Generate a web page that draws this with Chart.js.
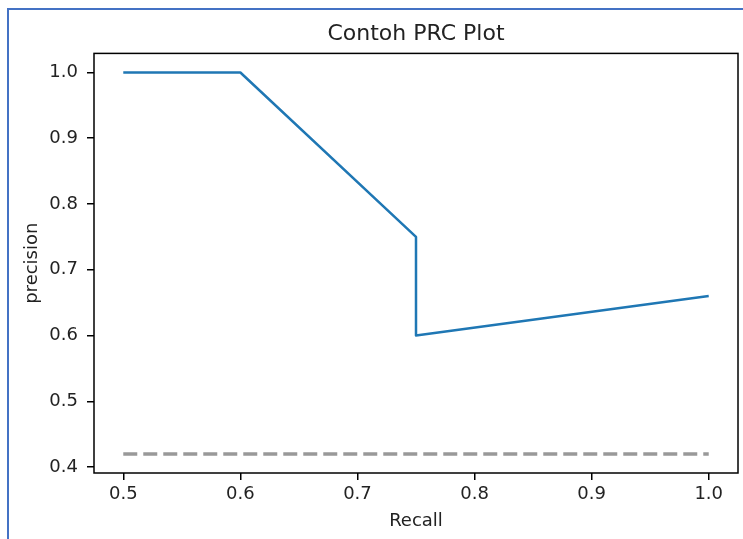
<!DOCTYPE html>
<html>
<head>
<meta charset="utf-8">
<title>Contoh PRC Plot</title>
<script src="https://cdn.jsdelivr.net/npm/chart.js@4.4.0/dist/chart.umd.min.js"></script>
<style>
    body { margin: 0; background: #fff; }
    #wrap { position: relative; width: 743px; height: 539px; }
    #prcChart { position: absolute; left: 0; top: 0; }
    #frame {
        position: absolute; left: 7px; top: 8px; right: 0; bottom: 0;
        border-left: 2px solid #4472c4; border-top: 2px solid #4472c4;
        pointer-events: none;
    }
</style>
</head>
<body>
<div id="wrap">
    <canvas id="prcChart" width="743" height="539"></canvas>
    <div id="frame"></div>
</div>
<script>
// PRC curve values
const recall = [0.5, 0.6, 0.75, 0.75, 1.0];
const precision = [1.0, 1.0, 0.75, 0.6, 0.66];

// no-skill baseline (dashed grey)
const baselineRecall = [0.5, 1.0];
const baselinePrecision = [0.42, 0.42];

// tick labels
const xTicks = [0.5, 0.6, 0.7, 0.8, 0.9, 1.0];
const yTicks = [0.4, 0.5, 0.6, 0.7, 0.8, 0.9, 1.0];

const FONT = "'DejaVu Sans', sans-serif";

// draws the box around the plot area like matplotlib spines
const boxPlugin = {
    id: 'boxPlugin',
    afterDatasetsDraw(chart) {
        const { ctx, chartArea: a } = chart;
        ctx.save();
        ctx.strokeStyle = '#000';
        ctx.lineWidth = 1.5;
        ctx.strokeRect(a.left, a.top, a.right - a.left, a.bottom - a.top);
        ctx.restore();
    }
};

const ctx = document.getElementById('prcChart').getContext('2d');
new Chart(ctx, {
    type: 'line',
    data: {
        datasets: [{
            label: 'PRC',
            data: recall.map((r, i) => ({ x: r, y: precision[i] })),
            borderColor: '#1f77b4',
            borderWidth: 2.5,
            borderJoinStyle: 'round',
            pointRadius: 0,
            tension: 0,
            fill: false
        }, {
            label: 'baseline',
            data: baselineRecall.map((r, i) => ({ x: r, y: baselinePrecision[i] })),
            borderColor: '#999999',
            borderWidth: 3.5,
            borderDash: [14, 6],
            pointRadius: 0,
            tension: 0,
            fill: false
        }]
    },
    options: {
        responsive: false,
        animation: false,
        layout: { padding: { left: 0, right: 5, top: 0, bottom: 0 } },
        plugins: {
            legend: { display: false },
            tooltip: { enabled: false },
            title: {
                display: true,
                text: 'Contoh PRC Plot',
                fullSize: false,
                color: '#222',
                font: { family: FONT, size: 22, weight: 'normal' },
                padding: { top: 21, bottom: 6 }
            }
        },
        scales: {
            x: {
                type: 'linear',
                min: 0.475,
                max: 1.025,
                afterBuildTicks: s => { s.ticks = xTicks.map(v => ({ value: v })); },
                afterFit: s => { s.height = 66; },
                ticks: {
                    color: '#222',
                    font: { family: FONT, size: 18 },
                    padding: 4,
                    maxRotation: 0,
                    callback: v => v.toFixed(1)
                },
                grid: {
                    drawOnChartArea: false,
                    drawTicks: true,
                    tickLength: 7,
                    color: '#000',
                    lineWidth: 1.5
                },
                border: { display: false },
                title: {
                    display: true,
                    text: 'Recall',
                    color: '#222',
                    font: { family: FONT, size: 18 },
                    padding: { top: 0, bottom: 7 }
                }
            },
            y: {
                type: 'linear',
                min: 0.391,
                max: 1.029,
                afterBuildTicks: s => { s.ticks = yTicks.map(v => ({ value: v })); },
                afterFit: s => { s.width = 94; },
                ticks: {
                    color: '#222',
                    font: { family: FONT, size: 18 },
                    padding: 9,
                    callback: v => v.toFixed(1)
                },
                grid: {
                    drawOnChartArea: false,
                    drawTicks: true,
                    tickLength: 7,
                    color: '#000',
                    lineWidth: 1.5
                },
                border: { display: false },
                title: {
                    display: true,
                    text: 'precision',
                    color: '#222',
                    font: { family: FONT, size: 18 },
                    padding: { top: 22, bottom: 0 }
                }
            }
        }
    },
    plugins: [boxPlugin]
});
</script>
</body>
</html>
